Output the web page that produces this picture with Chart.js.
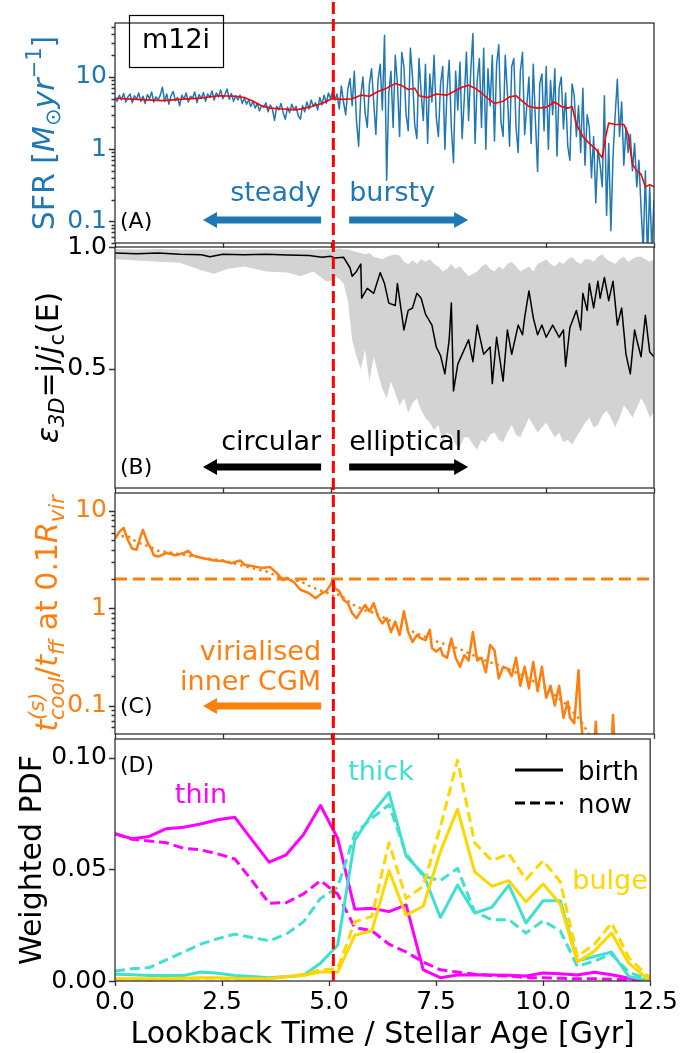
<!DOCTYPE html>
<html>
<head>
<meta charset="utf-8">
<script src="https://cdn.jsdelivr.net/npm/chart.js@4.4.1/dist/chart.umd.min.js"></script>
<style>
  body { margin: 0; background: #fff; }
  #wrap { position: relative; width: 684px; height: 1053px; }
  canvas { position: absolute; left: 0; top: 0; }
</style>
</head>
<body>
<div id="wrap">
  <canvas id="cA" width="684" height="1053"></canvas>
  <canvas id="cB" width="684" height="1053"></canvas>
  <canvas id="cC" width="684" height="1053"></canvas>
  <canvas id="cD" width="684" height="1053"></canvas>
</div>
<script>
// ----------------------
// DATA
// ----------------------
const xTicks = [0, 2.5, 5, 7.5, 10, 12.5];
const xTickLabels = ["0.0", "2.5", "5.0", "7.5", "10.0", "12.5"];
const transitionTime = 5.1;

// (A) star formation rate, Msun/yr
const sfrT = [
  0,0.05,0.1,0.15,0.2,0.25,0.3,0.35,0.4,0.45,0.5,0.55,0.6,0.65,0.7,0.75,0.8,0.85,0.9,0.95,
  1,1.05,1.1,1.15,1.2,1.25,1.3,1.35,1.4,1.45,1.5,1.55,1.6,1.65,1.7,1.75,1.8,1.85,1.9,1.95,
  2,2.05,2.1,2.15,2.2,2.25,2.3,2.35,2.4,2.45,2.5,2.55,2.6,2.65,2.7,2.75,2.8,2.85,2.9,2.95,
  3,3.05,3.1,3.15,3.2,3.25,3.3,3.35,3.4,3.45,3.5,3.55,3.6,3.65,3.7,3.75,3.8,3.85,3.9,3.95,
  4,4.05,4.1,4.15,4.2,4.25,4.3,4.35,4.4,4.45,4.5,4.55,4.6,4.65,4.7,4.75,4.8,4.85,4.9,4.95,
  5,5.05,5.1,5.15,5.2,5.25,5.3,5.35,5.4,5.45,5.5,5.55,5.6,5.65,5.7,5.75,5.8,5.85,5.9,5.95,
  6,6.05,6.1,6.15,6.2,6.25,6.3,6.35,6.4,6.45,6.5,6.55,6.6,6.65,6.7,6.75,6.8,6.85,6.9,6.95,
  7,7.05,7.1,7.15,7.2,7.25,7.3,7.35,7.4,7.45,7.5,7.55,7.6,7.65,7.7,7.75,7.8,7.85,7.9,7.95,
  8,8.05,8.1,8.15,8.2,8.25,8.3,8.35,8.4,8.45,8.5,8.55,8.6,8.65,8.7,8.75,8.8,8.85,8.9,8.95,
  9,9.05,9.1,9.15,9.2,9.25,9.3,9.35,9.4,9.45,9.5,9.55,9.6,9.65,9.7,9.75,9.8,9.85,9.9,9.95,
  10,10.05,10.1,10.15,10.2,10.25,10.3,10.35,10.4,10.45,10.5,10.55,10.6,10.65,10.7,10.75,10.8,10.85,10.9,10.95,
  11,11.05,11.1,11.15,11.2,11.25,11.3,11.35,11.4,11.45,11.5,11.55,11.6,11.65,11.7,11.75,11.8,11.85,11.9,11.95,
  12,12.05,12.1,12.15,12.2,12.25,12.3,12.35,12.4,12.45,12.5
];
const sfrV = [
  5.2,4.6,5.6,4.8,5.9,4.5,5.3,5.8,4.4,5.5,4.9,6.0,4.6,5.4,4.3,5.7,5.0,6.2,4.5,5.3,
  4.8,5.6,7.2,4.6,5.8,4.2,5.5,6.3,4.7,5.2,4.0,5.6,4.9,6.0,4.5,5.4,5.1,6.2,4.4,5.7,
  5.0,6.1,4.6,5.8,5.2,6.4,4.8,6.0,5.3,6.6,5.0,5.7,6.8,4.9,5.9,4.6,5.5,4.8,5.6,4.3,
  5.1,4.2,4.8,3.9,4.6,3.7,4.3,3.4,4.0,3.8,4.4,3.3,4.1,3.6,2.5,3.9,3.5,4.3,3.2,2.6,
  3.8,3.2,4.2,3.5,3.9,2.9,2.6,4.0,3.3,4.5,3.6,4.8,3.9,4.4,3.5,5.2,4.1,5.6,4.3,6.0,
  5.0,6.5,4.8,5.8,3.6,7.5,4.5,3.0,6.8,9.5,4.0,12.0,2.5,1.1,5.5,10.0,3.2,2.0,8.0,13.0,
  4.5,1.6,9.0,15.0,3.5,38.0,0.37,6.0,12.0,2.0,20.0,8.0,1.5,22.0,14.0,3.0,1.8,25.0,10.0,2.2,
  1.4,18.0,6.0,2.5,15.0,1.2,11.0,4.5,20.0,2.8,1.5,8.0,14.0,1.0,6.5,17.0,2.0,0.65,12.0,3.5,
  16.0,1.4,5.0,22.0,2.5,12.0,40.0,1.2,9.0,18.0,2.0,25.0,1.0,13.0,4.0,20.0,1.3,15.0,28.0,2.4,
  1.5,20.0,6.0,1.1,14.0,18.0,2.0,0.9,12.0,22.0,1.6,4.0,10.0,1.2,15.0,2.5,0.49,8.0,11.0,1.8,
  14.0,1.0,9.0,3.0,13.0,0.8,7.0,10.0,1.9,6.0,1.1,0.7,8.0,5.5,1.5,4.0,0.9,7.0,0.6,3.0,
  2.0,0.4,1.5,0.18,1.0,0.6,0.3,5.5,0.12,1.2,0.074,0.8,3.0,9.3,1.5,4.5,0.6,2.0,0.9,1.6,
  0.5,1.2,0.3,0.7,0.15,0.04,0.5,0.03,0.3,0.04,0.2
];
const sfrSmoothT = [0,0.5,1.09,1.5,2.0,2.4,2.8,3.0,3.2,3.4,3.6,3.9,4.2,4.5,4.8,5.03,5.3,5.5,5.7,5.9,6.1,6.3,6.5,6.65,6.8,6.95,7.05,7.25,7.45,7.7,7.9,8.05,8.2,8.35,8.5,8.65,8.8,9.0,9.15,9.3,9.45,9.6,9.8,10.0,10.2,10.35,10.5,10.6,10.7,10.85,11.0,11.15,11.3,11.38,11.45,11.6,11.8,11.9,12.0,12.1,12.2,12.3,12.4,12.5];
const sfrSmoothV = [5.07,4.9,4.7,4.9,5.1,5.5,5.4,5.2,4.6,4.0,3.7,3.6,3.5,3.8,4.3,5.0,4.9,5.0,5.6,5.4,6.3,7.0,8.1,7.6,6.7,7.0,5.5,5.2,5.8,5.6,6.5,7.2,7.7,7.0,6.0,5.0,4.3,4.6,5.3,5.5,4.6,3.9,3.7,3.8,4.5,3.9,3.7,3.9,2.2,1.5,1.2,1.0,0.76,1.5,2.3,2.2,2.2,1.6,0.62,0.5,0.45,0.3,0.32,0.3];
const sfrTicks = [0.1, 1, 10];
const sfrTickLabels = ["0.1", "1", "10"];

// (B) circularity: median line and 16-84% band
const circT = [0,0.5,1.0,1.5,2.0,2.2,2.5,3.0,3.5,4.0,4.5,4.8,5.0,5.1,5.3,5.45,5.5,5.6,5.7,5.72,5.85,6.0,6.15,6.25,6.35,6.5,6.55,6.7,6.8,6.9,7.0,7.1,7.2,7.35,7.45,7.55,7.65,7.75,7.8,7.85,7.95,8.05,8.2,8.3,8.4,8.55,8.7,8.75,8.85,9.0,9.1,9.2,9.35,9.45,9.5,9.6,9.7,9.8,9.9,10.0,10.15,10.3,10.4,10.45,10.55,10.7,10.8,10.85,10.95,11.0,11.1,11.2,11.25,11.35,11.45,11.55,11.65,11.75,11.85,11.95,12.05,12.1,12.2,12.3,12.4,12.5];
const circV = [0.975,0.972,0.975,0.97,0.968,0.96,0.97,0.968,0.97,0.967,0.965,0.958,0.962,0.955,0.958,0.915,0.88,0.90,0.93,0.79,0.83,0.81,0.895,0.85,0.77,0.76,0.85,0.66,0.74,0.75,0.81,0.79,0.725,0.68,0.59,0.555,0.48,0.62,0.77,0.41,0.52,0.56,0.62,0.53,0.68,0.56,0.59,0.44,0.63,0.45,0.66,0.56,0.68,0.64,0.71,0.82,0.71,0.64,0.68,0.63,0.68,0.63,0.66,0.51,0.67,0.74,0.66,0.81,0.74,0.85,0.75,0.86,0.79,0.875,0.78,0.86,0.68,0.75,0.56,0.48,0.66,0.62,0.55,0.72,0.57,0.55];
const bandT = [
  0,0.5,1.0,1.5,2.0,2.3,2.6,3.0,3.5,4.0,4.3,4.6,4.9,
  5.0,5.1,5.2,5.3,5.4,5.5,5.6,5.7,5.8,5.9,
  6.0,6.1,6.2,6.3,6.4,6.5,6.6,6.7,6.8,6.9,
  7.0,7.1,7.2,7.3,7.4,7.5,7.6,7.7,7.8,7.9,
  8.0,8.1,8.2,8.3,8.4,8.5,8.6,8.7,8.8,8.9,
  9.0,9.1,9.2,9.3,9.4,9.5,9.6,9.7,9.8,9.9,
  10.0,10.1,10.2,10.3,10.4,10.5,10.6,10.7,10.8,10.9,
  11.0,11.1,11.2,11.3,11.4,11.5,11.6,11.7,11.8,11.9,
  12.0,12.1,12.2,12.3,12.4,12.5
];
const bandHi = [
  0.992,0.99,0.992,0.99,0.99,0.99,0.99,0.99,0.99,0.99,0.99,0.99,0.99,
  0.99,0.99,0.995,0.99,0.99,0.985,0.98,0.975,0.97,0.975,
  0.96,0.955,0.95,0.96,0.965,0.97,0.965,0.94,0.93,0.945,
  0.93,0.95,0.94,0.95,0.93,0.92,0.90,0.91,0.93,0.91,
  0.92,0.90,0.88,0.89,0.90,0.92,0.93,0.91,0.90,0.92,
  0.91,0.93,0.94,0.92,0.90,0.91,0.92,0.90,0.93,0.94,
  0.95,0.93,0.92,0.94,0.93,0.95,0.96,0.94,0.93,0.95,
  0.95,0.94,0.96,0.97,0.95,0.94,0.93,0.95,0.96,0.94,
  0.95,0.96,0.96,0.95,0.94,0.95
];
const bandLo = [
  0.95,0.945,0.94,0.935,0.905,0.89,0.91,0.92,0.90,0.895,0.88,0.90,0.86,
  0.86,0.88,0.87,0.85,0.78,0.62,0.55,0.50,0.58,0.45,
  0.55,0.48,0.42,0.38,0.45,0.40,0.35,0.38,0.32,0.36,
  0.38,0.33,0.30,0.28,0.25,0.27,0.20,0.24,0.23,0.19,
  0.18,0.22,0.22,0.19,0.17,0.21,0.20,0.23,0.24,0.21,
  0.20,0.24,0.27,0.23,0.22,0.26,0.30,0.27,0.24,0.26,
  0.28,0.25,0.22,0.24,0.20,0.21,0.19,0.22,0.25,0.28,
  0.30,0.26,0.27,0.31,0.33,0.30,0.26,0.30,0.35,0.33,
  0.30,0.34,0.38,0.35,0.30,0.32
];
const circTicks = [0.5, 1.0];
const circTickLabels = ["0.5", "1.0"];

// (C) tcool/tff at 0.1 Rvir
const coolT = [0,0.1,0.2,0.3,0.4,0.5,0.6,0.65,0.75,0.85,0.9,1.0,1.2,1.4,1.6,1.7,1.8,2.0,2.3,2.5,2.7,2.9,3.0,3.2,3.4,3.6,3.75,3.9,4.0,4.15,4.3,4.5,4.65,4.8,4.9,5.0,5.05,5.1,5.2,5.3,5.4,5.5,5.6,5.7,5.8,5.9,6.0,6.1,6.2,6.3,6.4,6.5,6.6,6.7,6.8,6.9,7.0,7.1,7.2,7.3,7.35,7.45,7.55,7.6,7.7,7.8,7.9,8.0,8.1,8.2,8.3,8.4,8.5,8.6,8.7,8.8,8.9,9.0,9.1,9.2,9.3,9.4,9.5,9.6,9.7,9.8,9.9,10.0,10.1,10.2,10.3,10.4,10.5,10.55,10.65,10.75,10.8,10.85,10.9,11.0,11.1,11.15,11.2,11.4,11.5,11.55,11.6,11.8];
const coolV = [5.2,6.1,6.7,5.0,4.1,4.0,5.6,6.4,4.8,4.0,3.5,3.4,3.7,3.5,3.7,3.9,3.5,3.3,3.1,3.06,2.9,3.1,2.8,2.7,2.6,2.65,2.3,1.95,2.05,1.85,1.55,1.43,1.27,1.43,1.5,1.75,1.95,1.6,1.5,1.22,1.13,0.89,0.79,0.93,1.08,0.93,1.13,0.82,0.7,0.79,0.57,0.73,0.53,0.93,0.57,0.45,0.53,0.49,0.47,0.6,0.39,0.36,0.39,0.33,0.31,0.49,0.31,0.25,0.33,0.29,0.57,0.29,0.31,0.22,0.42,0.37,0.19,0.25,0.24,0.2,0.31,0.16,0.25,0.15,0.28,0.14,0.25,0.12,0.16,0.1,0.16,0.075,0.11,0.075,0.066,0.23,0.075,0.045,0.03,0.02,0.03,0.068,0.03,0.02,0.03,0.08,0.03,0.02];
const coolAvgT = [0,0.3,0.5,0.8,1.0,1.5,2.0,2.5,3.0,3.5,3.8,4.0,4.3,4.5,4.8,5.0,5.1,5.2,5.5,5.8,6.0,6.5,7.0,7.5,8.0,8.5,9.0,9.5,10.0,10.5,10.8,11.0];
const coolAvgV = [5.5,5.5,4.8,4.3,3.9,3.6,3.3,3.1,2.7,2.4,2.1,1.95,1.9,1.7,1.5,1.4,1.3,1.4,1.1,0.95,0.9,0.7,0.55,0.45,0.38,0.3,0.25,0.2,0.15,0.1,0.07,0.05];
const coolThreshold = 2;
const coolTicks = [0.1, 1, 10];
const coolTickLabels = ["0.1", "1", "10"];

// (D) weighted PDF of stellar ages, by component
const pdfT = [0,0.4,0.8,1.2,1.6,2.0,2.4,2.8,3.2,3.6,4.0,4.4,4.8,5.2,5.6,6.0,6.4,6.8,7.2,7.6,8.0,8.4,8.8,9.2,9.6,10.0,10.4,10.8,11.2,11.6,12.0,12.4,12.5];
const thinBirth = [0.066,0.0638,0.0648,0.0683,0.0689,0.0704,0.0723,0.0734,0.0633,0.0533,0.0566,0.0656,0.0787,0.064,0.0322,0.0326,0.0311,0.0341,0.005,0.0015,0.0027,0.0028,0.0027,0.0026,0.0022,0.0036,0.0033,0.0027,0.0039,0.0028,0.0012,0.0003,0.0001];
const thinNow = [0.066,0.0635,0.0628,0.062,0.0595,0.0588,0.057,0.0547,0.045,0.0349,0.0351,0.039,0.045,0.039,0.024,0.0225,0.0165,0.013,0.0085,0.005,0.004,0.003,0.0025,0.0022,0.0015,0.0015,0.0012,0.001,0.001,0.0008,0.0005,0.0002,0.0001];
const thickBirth = [0.003,0.0028,0.0025,0.0025,0.0025,0.004,0.0035,0.0025,0.002,0.0015,0.002,0.0025,0.008,0.016,0.063,0.075,0.0845,0.056,0.048,0.0285,0.043,0.0305,0.033,0.043,0.026,0.036,0.036,0.009,0.011,0.013,0.002,0.0005,0.0];
const thickNow = [0.0045,0.0055,0.006,0.0095,0.013,0.0165,0.019,0.021,0.0195,0.018,0.021,0.0265,0.037,0.042,0.066,0.073,0.079,0.057,0.047,0.045,0.0505,0.031,0.0275,0.0275,0.0215,0.027,0.0225,0.0065,0.009,0.012,0.004,0.001,0.0005];
const bulgeBirth = [0.001,0.001,0.001,0.001,0.0012,0.0015,0.0015,0.0012,0.001,0.001,0.002,0.0025,0.004,0.004,0.0205,0.0225,0.0495,0.0295,0.0335,0.058,0.077,0.049,0.0425,0.045,0.0355,0.0435,0.0345,0.0085,0.0135,0.0215,0.008,0.0015,0.001];
const bulgeNow = [0.0008,0.0008,0.0008,0.0009,0.001,0.0012,0.0012,0.001,0.001,0.001,0.0018,0.003,0.005,0.0055,0.0265,0.029,0.062,0.037,0.0425,0.069,0.099,0.062,0.054,0.057,0.0455,0.054,0.0445,0.011,0.0165,0.026,0.0105,0.003,0.0015];
const pdfTicks = [0, 0.05, 0.10];
const pdfTickLabels = ["0.00", "0.05", "0.10"];


// ----------------------
// LAYOUT / STYLE
// ----------------------
Chart.defaults.font.family = "'DejaVu Sans', sans-serif";
Chart.defaults.color = "#000";

const W = 684, H = 1053;
const PLOT_L = 115, PLOT_R = 654;
const FONT = "'DejaVu Sans'";
const TICK_SIZE = 25;
const BLUE = "#1f77b4", ORANGE = "#ff7f0e", RED = "#ff0000";
const THIN = "#ff00ff", THICK = "#40e0d0", BULGE = "#ffd700";

const panels = {
  A: { top: 2, bottom: 243 },
  B: { top: 247, bottom: 488 },
  C: { top: 493, bottom: 734 },
  D: { top: 739, bottom: 981 }
};


// ----------------------
// HELPERS
// ----------------------
function pts(xs, ys) {
  return xs.map((x, i) => ({ x, y: ys[i] }));
}

function line(xs, ys, color, width, dash, order) {
  return {
    data: pts(xs, ys),
    borderColor: color,
    borderWidth: width,
    borderDash: dash || [],
    borderJoinStyle: "round",
    pointRadius: 0,
    tension: 0,
    fill: false,
    order: order
  };
}

function logMinor(min, max) {
  const out = [];
  for (let d = -3; d <= 3; d++) {
    for (let m = 2; m <= 9; m++) {
      const v = m * Math.pow(10, d);
      if (v >= min && v <= max) out.push(v);
    }
  }
  return out;
}

function xScale(show) {
  const s = {
    type: "linear", min: 0, max: 12.5, display: show,
    afterBuildTicks: sc => { sc.ticks = xTicks.map(v => ({ value: v })); },
    ticks: { color: "#000", font: { size: TICK_SIZE }, padding: 6, autoSkip: false, maxRotation: 0,
             callback: (v, i) => xTickLabels[i] },
    grid: { display: false, drawTicks: false },
    border: { display: false }
  };
  if (show) s.afterFit = sc => { sc.height = H - panels.D.bottom; };
  return s;
}

function yScale(type, min, max, ticks, labels, color) {
  return {
    type, min, max,
    afterFit: s => { s.width = PLOT_L; },
    afterBuildTicks: s => { s.ticks = ticks.map(v => ({ value: v })); },
    ticks: { color, font: { size: TICK_SIZE }, padding: 8, autoSkip: false,
             callback: (v, i) => labels[i] },
    grid: { display: false, drawTicks: false },
    border: { display: false }
  };
}

function options(p, showX, y) {
  return {
    responsive: false,
    animation: false,
    events: [],
    layout: { padding: { left: 0, right: W - PLOT_R, top: p.top, bottom: showX ? 0 : H - p.bottom } },
    plugins: { legend: { display: false }, tooltip: { enabled: false } },
    scales: { x: xScale(showX), y: y }
  };
}

// rotated axis label with sub/superscripts
function drawRichLabel(ctx, parts, cx, cy, color, size) {
  ctx.save();
  ctx.translate(cx, cy);
  ctx.rotate(-Math.PI / 2);
  ctx.fillStyle = color;
  ctx.textBaseline = "alphabetic";
  ctx.textAlign = "left";
  const items = parts.map(p => {
    const s = size * (p.sc || 1);
    const font = (p.it ? "italic " : "") + s + "px " + FONT;
    ctx.font = font;
    return Object.assign({}, p, { font, w: ctx.measureText(p.t).width });
  });
  let x = 0, prevX = 0;
  items.forEach(it => {
    if (it.stack) { it.x = prevX; x = Math.max(x, prevX + it.w); }
    else { it.x = x; prevX = x; x += it.w; }
  });
  const total = x;
  items.forEach(it => {
    ctx.font = it.font;
    ctx.fillText(it.t, it.x - total / 2, (it.dy || 0) * size + size * 0.36);
  });
  ctx.restore();
}

function text(ctx, str, x, y, color, size, align, baseline) {
  ctx.fillStyle = color;
  ctx.font = size + "px " + FONT;
  ctx.textAlign = align || "left";
  ctx.textBaseline = baseline || "alphabetic";
  ctx.fillText(str, x, y);
}

function arrow(ctx, xTail, xTip, y, color) {
  const dir = Math.sign(xTip - xTail);
  const hl = 14, hw = 8, bw = 3.5;
  const xb = xTip - dir * hl;
  ctx.fillStyle = color;
  ctx.beginPath();
  ctx.moveTo(xTail, y - bw);
  ctx.lineTo(xb, y - bw);
  ctx.lineTo(xb, y - hw);
  ctx.lineTo(xTip, y);
  ctx.lineTo(xb, y + hw);
  ctx.lineTo(xb, y + bw);
  ctx.lineTo(xTail, y + bw);
  ctx.closePath();
  ctx.fill();
}

// frame, tick marks, axis label and annotations for one panel
function panelPlugin(cfg) {
  return {
    id: "panel" + cfg.name,
    afterDraw(chart) {
      const { ctx, chartArea: a, scales: { x, y } } = chart;
      ctx.save();
      ctx.strokeStyle = "#333";
      ctx.lineWidth = 1.3;
      ctx.strokeRect(a.left, a.top, a.right - a.left, a.bottom - a.top);
      ctx.beginPath();
      xTicks.forEach(v => {
        const px = Math.round(x.getPixelForValue(v)) + 0.5;
        ctx.moveTo(px, a.bottom);
        ctx.lineTo(px, a.bottom + 5);
      });
      cfg.yMajor.forEach(v => {
        const py = Math.round(y.getPixelForValue(v)) + 0.5;
        ctx.moveTo(a.left, py);
        ctx.lineTo(a.left - 6, py);
      });
      (cfg.yMinor || []).forEach(v => {
        const py = Math.round(y.getPixelForValue(v)) + 0.5;
        ctx.moveTo(a.left, py);
        ctx.lineTo(a.left - 3.5, py);
      });
      ctx.stroke();
      drawRichLabel(ctx, cfg.label, cfg.labelX, (a.top + a.bottom) / 2, cfg.labelColor, 30);
      if (cfg.extra) cfg.extra(ctx, a, x, y);
      ctx.restore();
    }
  };
}


// ----------------------
// PANEL A : SFR
// ----------------------
new Chart(document.getElementById("cA"), {
  type: "line",
  data: {
    datasets: [
      line(sfrSmoothT, sfrSmoothV, RED, 1.6, null, 0),
      line(sfrT, sfrV, BLUE, 1.5, null, 1)
    ]
  },
  options: options(panels.A, false, yScale("logarithmic", 0.05, 56, sfrTicks, sfrTickLabels, BLUE)),
  plugins: [panelPlugin({
    name: "A",
    yMajor: sfrTicks,
    yMinor: logMinor(0.05, 56),
    labelX: 43,
    labelColor: BLUE,
    label: [
      { t: "SFR [" }, { t: "M", it: true }, { t: "⊙", sc: 0.7, dy: 0.22 },
      { t: "yr", it: true }, { t: "−1", sc: 0.7, dy: -0.42 }, { t: "]" }
    ],
    extra(ctx, a, x) {
      ctx.strokeStyle = "#000";
      ctx.lineWidth = 1.2;
      ctx.strokeRect(129.5, 15.5, 94, 52);
      text(ctx, "m12i", 176, 41, "#000", 27, "center", "middle");
      text(ctx, "steady", x.getPixelForValue(4.78), 201, BLUE, 27, "right");
      text(ctx, "bursty", x.getPixelForValue(5.43), 201, BLUE, 27, "left");
      arrow(ctx, x.getPixelForValue(4.78), x.getPixelForValue(2.04), 220, BLUE);
      arrow(ctx, x.getPixelForValue(5.43), x.getPixelForValue(8.19), 220, BLUE);
      text(ctx, "(A)", a.left + 5, 222, "#000", 22, "left", "middle");
    }
  })]
});


// ----------------------
// PANEL B : CIRCULARITY
// ----------------------
new Chart(document.getElementById("cB"), {
  type: "line",
  data: {
    datasets: [
      line(circT, circV, "#000", 1.5, null, 0),
      Object.assign(line(bandT, bandHi, "rgba(0,0,0,0)", 0, null, 2), { fill: "+1", backgroundColor: "#d3d3d3" }),
      line(bandT, bandLo, "rgba(0,0,0,0)", 0, null, 3)
    ]
  },
  options: options(panels.B, false, yScale("linear", 0.012, 1.0, circTicks, circTickLabels, "#000")),
  plugins: [panelPlugin({
    name: "B",
    yMajor: circTicks,
    labelX: 47,
    labelColor: "#000",
    label: [
      { t: "ε", it: true }, { t: "3D", it: true, sc: 0.7, dy: 0.22 },
      { t: "=j/" }, { t: "j", it: true }, { t: "c", sc: 0.7, dy: 0.22 }, { t: "(E)" }
    ],
    extra(ctx, a, x) {
      text(ctx, "circular", x.getPixelForValue(4.78), 450, "#000", 27, "right");
      text(ctx, "elliptical", x.getPixelForValue(5.43), 450, "#000", 27, "left");
      arrow(ctx, x.getPixelForValue(4.78), x.getPixelForValue(2.04), 467, "#000");
      arrow(ctx, x.getPixelForValue(5.43), x.getPixelForValue(8.19), 467, "#000");
      text(ctx, "(B)", a.left + 5, 468, "#000", 22, "left", "middle");
    }
  })]
});


// ----------------------
// PANEL C : COOLING / FREE-FALL
// ----------------------
new Chart(document.getElementById("cC"), {
  type: "line",
  data: {
    datasets: [
      line([0, 12.5], [coolThreshold, coolThreshold], ORANGE, 3, [12, 6], 0),
      line(coolT, coolV, ORANGE, 2.5, null, 1),
      line(coolAvgT, coolAvgV, ORANGE, 2.5, [2.5, 4], 2)
    ]
  },
  options: options(panels.C, false, yScale("logarithmic", 0.051, 15.3, coolTicks, coolTickLabels, ORANGE)),
  plugins: [panelPlugin({
    name: "C",
    yMajor: coolTicks,
    yMinor: logMinor(0.051, 15.3),
    labelX: 46,
    labelColor: ORANGE,
    label: [
      { t: "t", it: true }, { t: "(s)", it: true, sc: 0.7, dy: -0.42 },
      { t: "cool", it: true, sc: 0.7, dy: 0.24, stack: true },
      { t: "/" }, { t: "t", it: true }, { t: "ff", it: true, sc: 0.7, dy: 0.24 },
      { t: " at 0.1" }, { t: "R", it: true }, { t: "vir", it: true, sc: 0.7, dy: 0.24 }
    ],
    extra(ctx, a, x) {
      text(ctx, "virialised", x.getPixelForValue(4.78), 660, ORANGE, 27, "right");
      text(ctx, "inner CGM", x.getPixelForValue(4.78), 690, ORANGE, 27, "right");
      arrow(ctx, x.getPixelForValue(4.78), x.getPixelForValue(2.04), 706, ORANGE);
      text(ctx, "(C)", a.left + 5, 707, "#000", 22, "left", "middle");
    }
  })]
});


// ----------------------
// PANEL D : AGE PDFs
// ----------------------
const dash = [10, 5];
new Chart(document.getElementById("cD"), {
  type: "line",
  data: {
    datasets: [
      line(pdfT, thinBirth, THIN, 3, null, 6),
      line(pdfT, thinNow, THIN, 3, dash, 5),
      line(pdfT, thickBirth, THICK, 3, null, 4),
      line(pdfT, thickNow, THICK, 3, dash, 3),
      line(pdfT, bulgeBirth, BULGE, 3, null, 2),
      line(pdfT, bulgeNow, BULGE, 3, dash, 1)
    ]
  },
  options: options(panels.D, true, yScale("linear", 0, 0.1085, pdfTicks, pdfTickLabels, "#000")),
  plugins: [panelPlugin({
    name: "D",
    yMajor: pdfTicks,
    labelX: 30,
    labelColor: "#000",
    label: [{ t: "Weighted PDF" }],
    extra(ctx, a, x) {
      text(ctx, "(D)", a.left + 5, 766, "#000", 22, "left", "middle");
      text(ctx, "thin", 201, 803, THIN, 27, "center");
      text(ctx, "thick", 381, 780, THICK, 27, "center");
      text(ctx, "bulge", 610, 889, BULGE, 27, "center");
      // legend
      ctx.strokeStyle = "#000";
      ctx.lineWidth = 3;
      ctx.setLineDash([]);
      ctx.beginPath(); ctx.moveTo(515, 770); ctx.lineTo(563, 770); ctx.stroke();
      ctx.setLineDash([10, 5]);
      ctx.beginPath(); ctx.moveTo(515, 803); ctx.lineTo(563, 803); ctx.stroke();
      ctx.setLineDash([]);
      text(ctx, "birth", 578, 780, "#000", 26, "left");
      text(ctx, "now", 578, 813, "#000", 26, "left");
      // x title
      text(ctx, "Lookback Time / Stellar Age [Gyr]", (a.left + a.right) / 2, 1043, "#000", 30, "center");
      // transition line through all panels
      const xr = x.getPixelForValue(transitionTime);
      ctx.strokeStyle = RED;
      ctx.lineWidth = 3;
      ctx.setLineDash([12, 5]);
      ctx.beginPath(); ctx.moveTo(xr, panels.A.top); ctx.lineTo(xr, panels.D.bottom); ctx.stroke();
      ctx.setLineDash([]);
    }
  })]
});
</script>
</body>
</html>
